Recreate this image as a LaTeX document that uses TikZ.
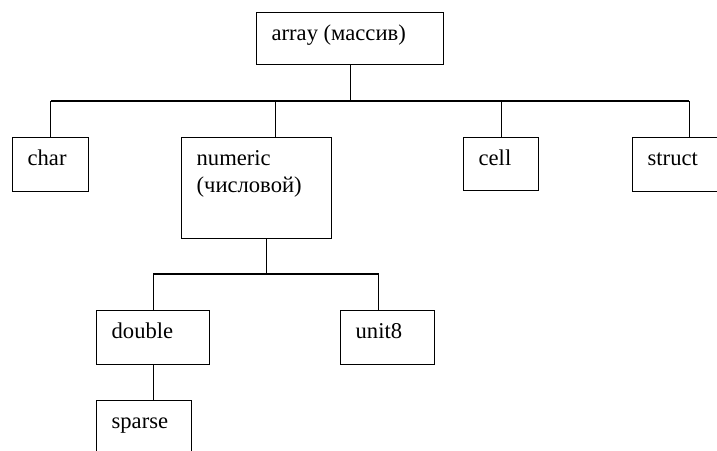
\documentclass[tikz,border=0pt]{standalone}
\usepackage{fontspec}
\setmainfont{Liberation Serif}
\newfontfamily\tnr{Liberation Serif}
\newcommand\bxt[3]{\parbox[b][#2pt][t]{#1pt}{\raggedright\leftskip=15pt\tnr\fontsize{22.6}{27}\selectfont\rule{0pt}{28pt}#3}}
\tikzset{
  tbox/.style={draw, line width=1.3pt, inner sep=0pt, anchor=north west},
  link/.style={line width=1.3pt},
}
\begin{document}
\begin{tikzpicture}[x=1pt,y=-1pt]
\useasboundingbox (0,0) rectangle (717,450);
\clip (0,0) rectangle (717,450);
\node[tbox] (array) at (256,12) {\bxt{187}{52}{array (массив)}};
\node[tbox] (char) at (12,137) {\bxt{76}{54}{char}};
\node[tbox] (numeric) at (181,137) {\bxt{150}{101}{numeric\\(числовой)}};
\node[tbox] (cell) at (463,137) {\bxt{75}{53}{cell}};
\node[tbox] (struct) at (632,137) {\bxt{113}{54}{struct}};
\node[tbox] (double) at (96,310) {\bxt{113}{54}{double}};
\node[tbox] (unit8) at (340,310) {\bxt{94}{54}{unit8}};
\node[tbox] (sparse) at (96,400) {\bxt{95}{70}{sparse}};
\coordinate (bus) at (0,101);
\coordinate (bus2) at (0,274);
\coordinate (nt) at ([xshift=19pt]numeric.north);
\coordinate (nb) at ([xshift=10pt]numeric.south);
\coordinate (ut) at ([xshift=-9pt]unit8.north);
\draw[link] (array.south) -- (array.south |- bus);
\draw[link] (char.north |- bus) -- (struct.north |- bus);
\draw[link] (char.north) -- (char.north |- bus);
\draw[link] (nt) -- (nt |- bus);
\draw[link] (cell.north) -- (cell.north |- bus);
\draw[link] (struct.north) -- (struct.north |- bus);
\draw[link] (nb) -- (nb |- bus2);
\draw[link] (double.north |- bus2) -- (ut |- bus2);
\draw[link] (double.north) -- (double.north |- bus2);
\draw[link] (ut) -- (ut |- bus2);
\draw[link] (double.south) -- (double.south |- sparse.north);
\end{tikzpicture}
\end{document}
